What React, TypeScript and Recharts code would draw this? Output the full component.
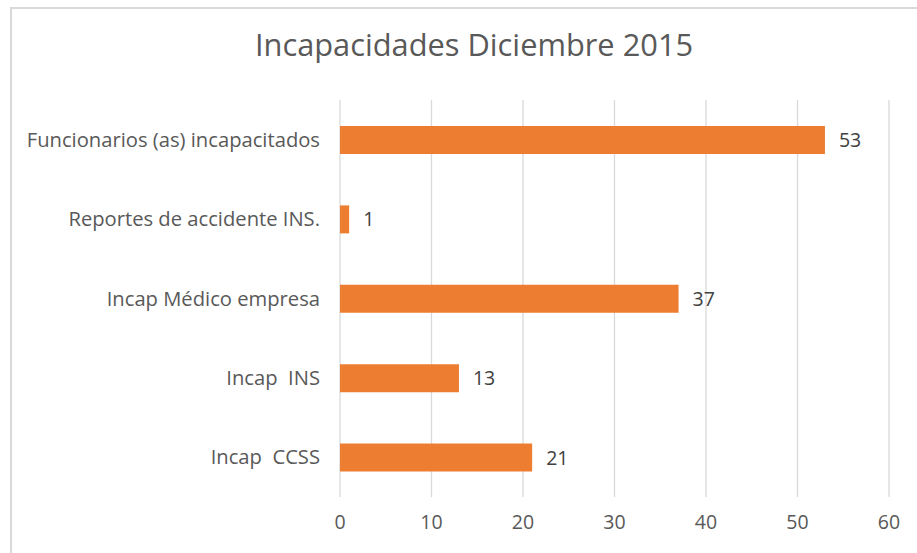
import React from "react";
import { BarChart, Bar, XAxis, YAxis, CartesianGrid, LabelList } from "recharts";

const categories = [
  "Funcionarios (as) incapacitados",
  "Reportes de accidente INS.",
  "Incap Médico empresa",
  "Incap  INS",
  "Incap  CCSS",
];
const values = [53, 1, 37, 13, 21];
const xTicks = [0, 10, 20, 30, 40, 50, 60];
const title = "Incapacidades Diciembre 2015";

const data = categories.map((c, i) => ({ name: c, value: values[i] }));

const FONT = "'Open Sans', sans-serif";

const CatTick = (props: any) => {
  const { x, y, payload } = props;
  return (
    <text
      x={x}
      y={y}
      dy="0.355em"
      textAnchor="end"
      fill="#595959"
      fontSize={20.2}
      fontFamily={FONT}
      style={{ whiteSpace: "pre" }}
    >
      {payload.value}
    </text>
  );
};

export default function App() {
  return (
    <div
      style={{
        position: "absolute",
        left: 0,
        top: 0,
        width: 917,
        height: 553,
        overflow: "hidden",
        background: "#fff",
        fontFamily: FONT,
      }}
    >
      <div
        style={{
          position: "absolute",
          left: 10,
          top: 7,
          width: 1000,
          height: 1000,
          border: "2px solid #d9d9d9",
          boxSizing: "border-box",
        }}
      />
      <div
        style={{
          position: "absolute",
          left: 0,
          width: 948,
          top: 23,
          textAlign: "center",
          fontSize: 30.8,
          color: "#595959",
          whiteSpace: "pre",
        }}
      >
        {title}
      </div>
      <div style={{ position: "absolute", left: 0, top: 0 }}>
        <BarChart
          width={917}
          height={553}
          data={data}
          layout="vertical"
          margin={{ top: 100, right: 28, bottom: 26, left: 0 }}
          barSize={28}
        >
          <CartesianGrid horizontal={false} vertical={true} stroke="#d9d9d9" strokeWidth={1.3} />
          <XAxis
            type="number"
            domain={[0, 60]}
            ticks={xTicks}
            axisLine={false}
            tickLine={false}
            tickMargin={12}
            height={30}
            tick={{ fill: "#595959", fontSize: 19.5, fontFamily: FONT }}
          />
          <YAxis
            type="category"
            dataKey="name"
            width={340}
            axisLine={false}
            tickLine={false}
            tickMargin={14}
            tick={<CatTick />}
          />
          <Bar dataKey="value" fill="#ED7D31" isAnimationActive={false}>
            <LabelList
              dataKey="value"
              position="right"
              offset={14}
              fill="#404040"
              style={{ fontSize: 19.5, fontFamily: FONT }}
            />
          </Bar>
        </BarChart>
      </div>
    </div>
  );
}
